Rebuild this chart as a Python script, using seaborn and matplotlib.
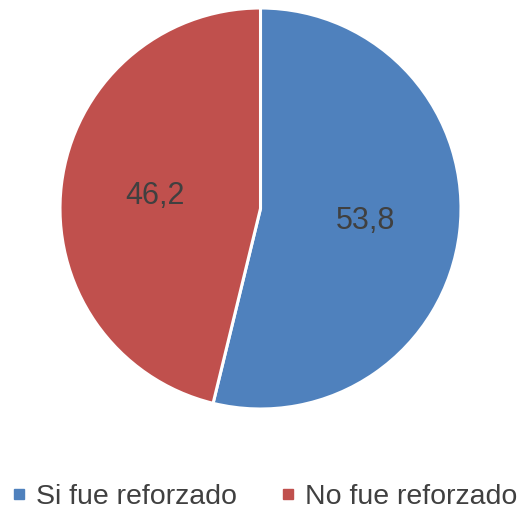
import matplotlib
matplotlib.use("Agg")
import matplotlib.pyplot as plt
from matplotlib.lines import Line2D
import seaborn as sns

categories = ["Si fue reforzado", "No fue reforzado"]
values = [53.8, 46.2]
value_labels = ["53,8", "46,2"]
colors = ["#4F81BD", "#C0504D"]

sns.set_theme(style="white")
plt.rcParams["font.family"] = ["Liberation Sans", "DejaVu Sans"]

fig = plt.figure(figsize=(5.25, 5.12), dpi=100)
ax = fig.add_axes([60 / 525, 103 / 512, 401 / 525, 401 / 512])
wedges, texts = ax.pie(values, labels=value_labels, colors=colors, startangle=90,
                       counterclock=False, labeldistance=0.53,
                       wedgeprops=dict(edgecolor="white", linewidth=2.2),
                       textprops=dict(fontsize=22, color="#404040"))
for t in texts:
    t.set_ha("center")
    t.set_va("center")
ax.set_xlim(-1, 1)
ax.set_ylim(-1, 1)
ax.set_aspect("equal")
ax.axis("off")

handles = [Line2D([0], [0], marker="s", linestyle="none", markersize=7,
                  markerfacecolor=c, markeredgecolor=c) for c in colors]
fig.legend(handles, categories, loc="center", bbox_to_anchor=(0.5, 15 / 512),
           ncol=2, frameon=False, fontsize=20.5, handletextpad=0.2,
           columnspacing=1.4, handlelength=0.8, labelcolor="#404040")

fig.savefig("out.png", dpi=100)
